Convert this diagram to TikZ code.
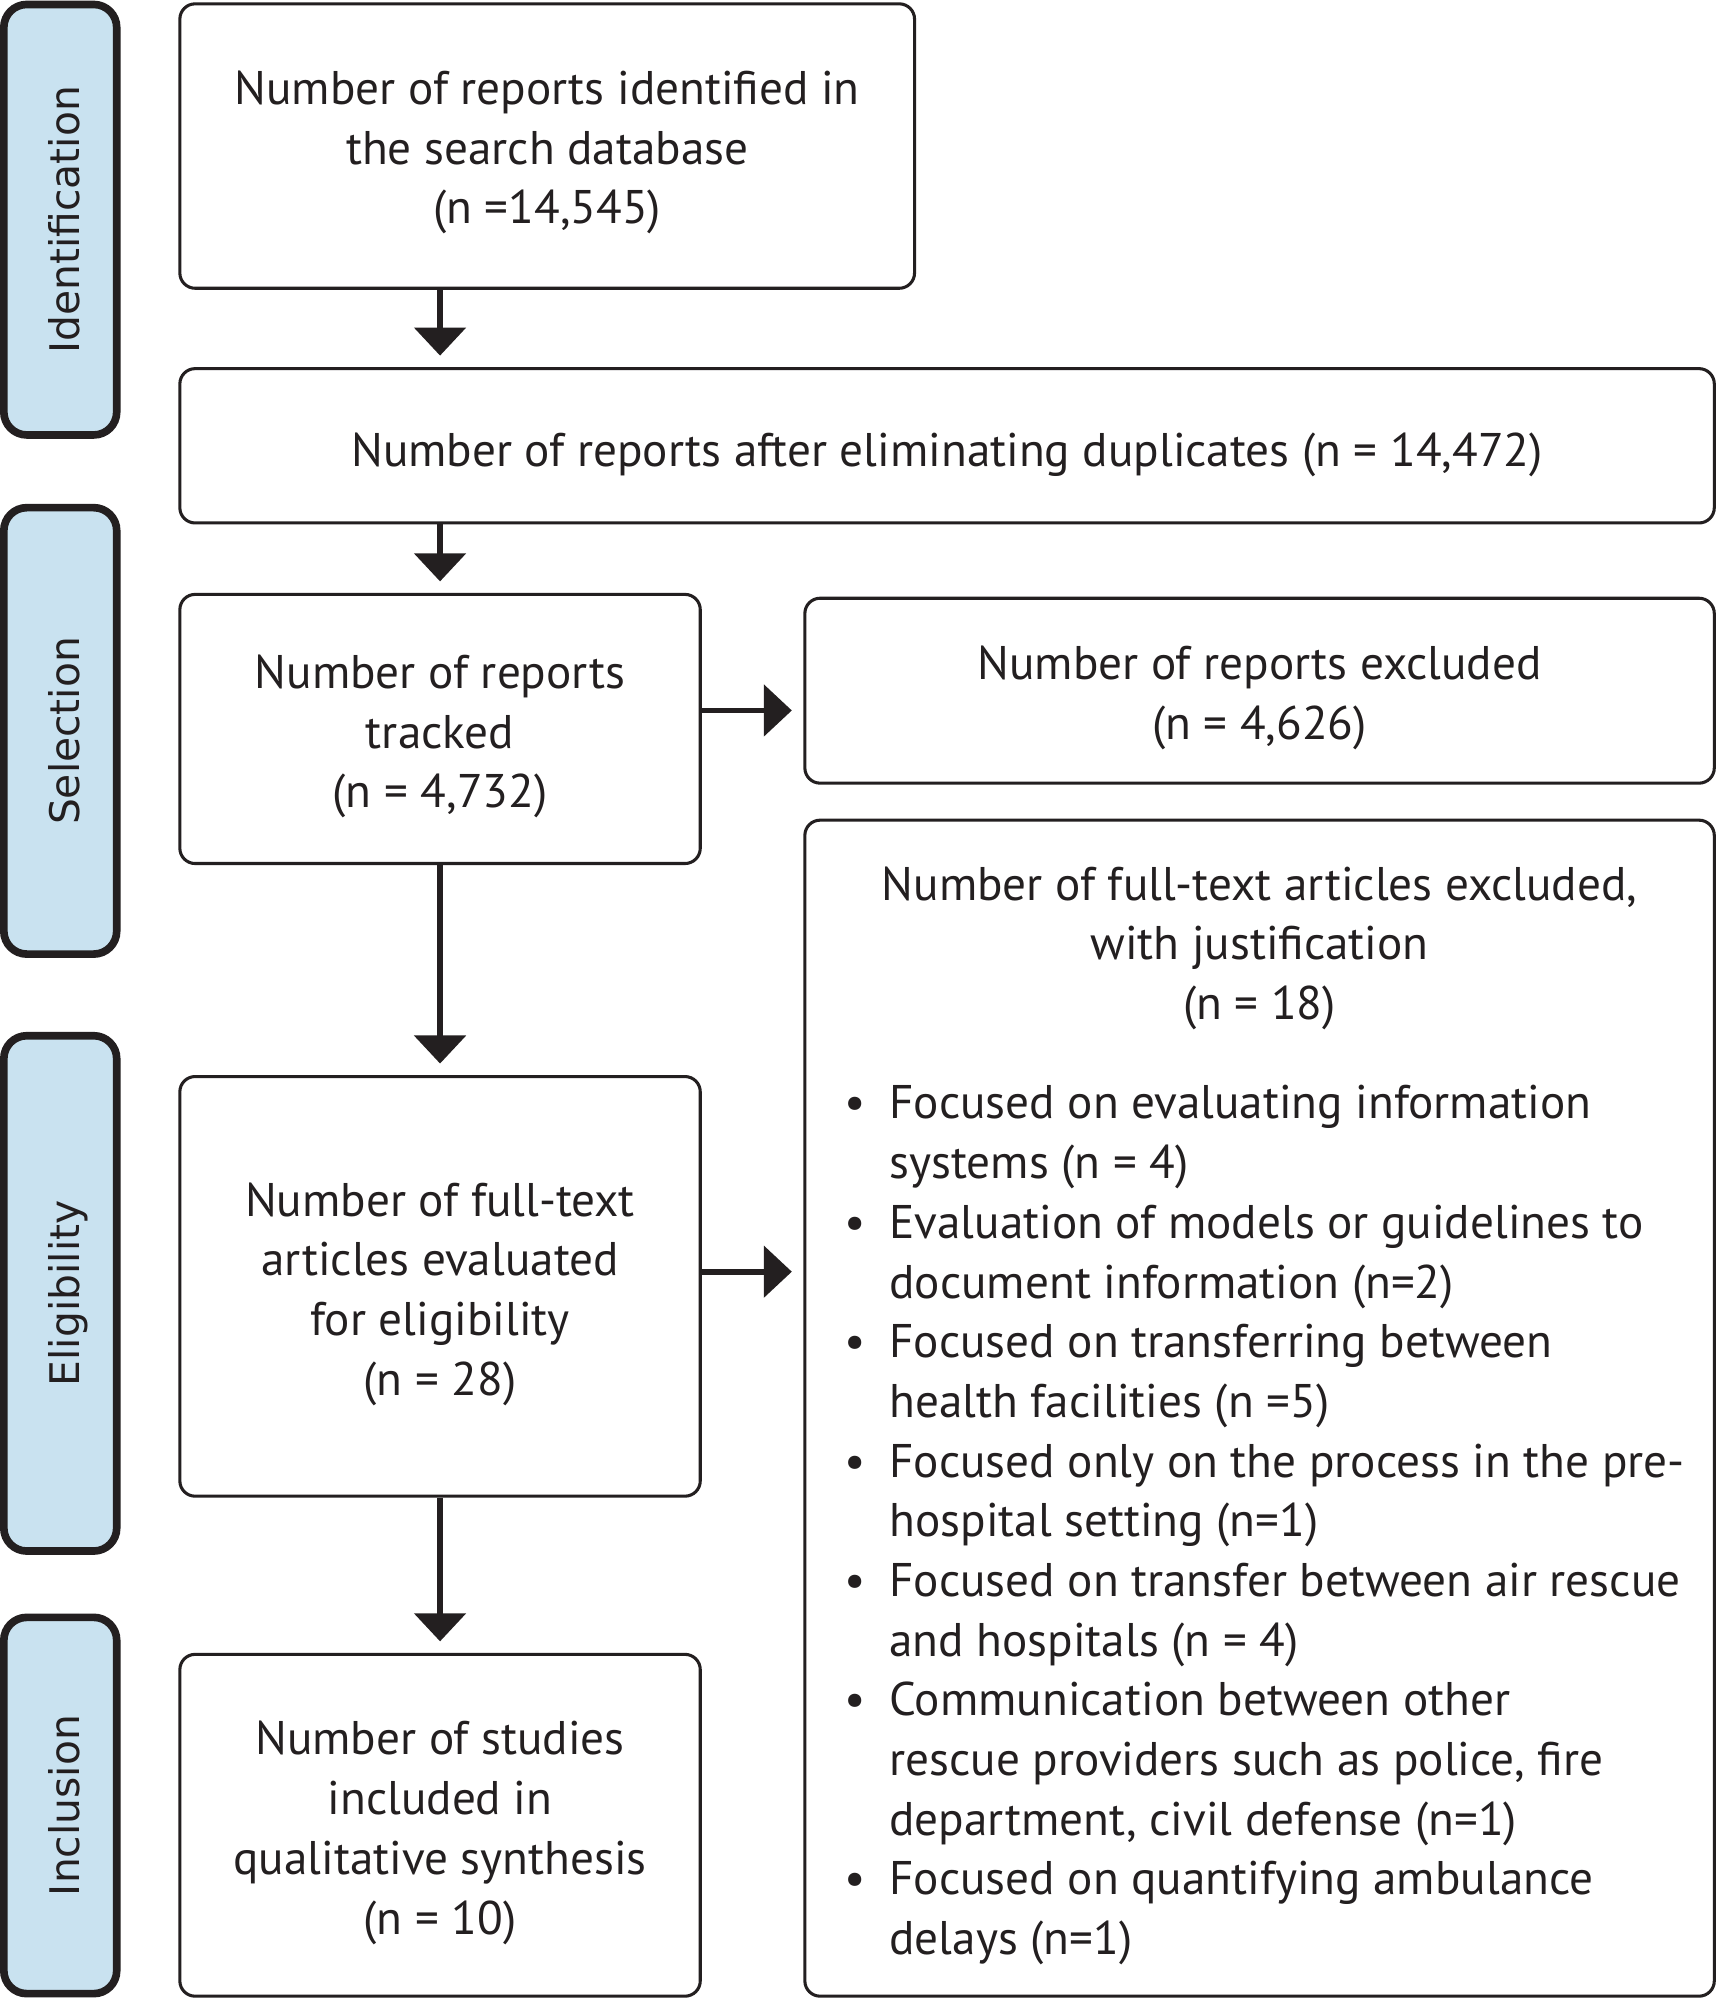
\documentclass[tikz,border=0pt]{standalone}
\usepackage{fontspec}
\setmainfont{PT Sans}
\newfontfamily\sidefont{DejaVu Sans}
\usetikzlibrary{arrows.meta,fit,calc}
\definecolor{ink}{HTML}{231F20}
\definecolor{sideblue}{HTML}{C9E2F0}
\begin{document}
\begin{tikzpicture}[x=0.5pt,y=-0.5pt,
  mainfont/.style={font=\fontsize{18.5}{23.4}\selectfont},
  box/.style={draw=ink, line width=1.2pt, rounded corners=6pt, inner sep=0pt},
  txt/.style={inner sep=0pt, align=center, text=ink, mainfont},
  side/.style={draw=ink, fill=sideblue, line width=3pt, rounded corners=9pt, inner sep=0pt},
  sidetext/.style={rotate=90, text=ink, inner sep=0pt, text height=11.7pt, text depth=0pt, font=\sidefont\fontsize{16}{19}\selectfont},
  arr/.style={draw=ink, line width=2.2pt, -{Triangle[width=20pt,length=11pt]}, shorten >=4.5pt}]

\useasboundingbox[fill=white] (0,0) rectangle (1346,1568);

% side labels
\node[side, fit={(3,3.5)(91.5,341)}] (s1) {};
\node[side, fit={(3,398)(91.5,748)}] (s2) {};
\node[side, fit={(3,812)(91.5,1216)}] (s3) {};
\node[side, fit={(3,1268)(91.5,1563)}] (s4) {};
\node[sidetext] (st1) at ($(s1.center)+(3,0)$) {Identification};
\node[sidetext] (st2) at ($(s2.center)+(3,0)$) {Selection};
\node[sidetext] (st3) at ($(s3.center)+(3,0)$) {Eligibility};
\node[sidetext] (st4) at ($(s4.center)+(3,0)$) {Inclusion};

% boxes
\node[box, fit={(141,3)(717,226)}] (b1) {};
\node[box, fit={(141,289)(1344,410)}] (b2) {};
\node[box, fit={(141,466)(549,677)}] (b3) {};
\node[box, fit={(631,469)(1344,614)}] (b4) {};
\node[box, fit={(141,844)(549,1173)}] (b5) {};
\node[box, fit={(631,643)(1344,1565)}] (b6) {};
\node[box, fit={(141,1297)(549,1565)}] (b7) {};

\node[txt] (t1) at ($(b1.center)+(0,5)$) {Number of reports identified in\\the search database\\(n =14,545)};
\node[txt] (t2) at ($(b2.center)+(0,7)$) {Number of reports after eliminating duplicates (n = 14,472)};
\node[txt] (t3) at ($(b3.center)+(0,6)$) {Number of reports\\tracked\\(n = 4,732)};
\node[txt] (t4) at ($(b4.center)+(0,5.5)$) {Number of reports excluded\\(n = 4,626)};
\node[txt] (t5) at ($(b5.center)+(0,6)$) {Number of full-text\\articles evaluated\\for eligibility\\(n = 28)};
\node[txt] (t7) at ($(b7.center)+(0,6)$) {Number of studies\\included in\\qualitative synthesis\\(n = 10)};

\node[txt] (t6) at (987.5,743.5) {Number of full-text articles excluded,\\with justification\\(n = 18)};
\node[txt, anchor=west, align=left] (l6) at (656,1195.5) {%
\begin{tabular}{@{}l@{}l@{}}
\makebox[20.5pt][l]{\hspace{3pt}•} & Focused on evaluating information\\
 & systems (n = 4)\\
\makebox[20.5pt][l]{\hspace{3pt}•} & Evaluation of models or guidelines to\\
 & document information (n=2)\\
\makebox[20.5pt][l]{\hspace{3pt}•} & Focused on transferring between\\
 & health facilities (n =5)\\
\makebox[20.5pt][l]{\hspace{3pt}•} & Focused only on the process in the pre-\\
 & hospital setting (n=1)\\
\makebox[20.5pt][l]{\hspace{3pt}•} & Focused on transfer between air rescue\\
 & and hospitals (n = 4)\\
\makebox[20.5pt][l]{\hspace{3pt}•} & Communication between other\\
 & rescue providers such as police, fire\\
 & department, civil defense (n=1)\\
\makebox[20.5pt][l]{\hspace{3pt}•} & Focused on quantifying ambulance\\
 & delays (n=1)
\end{tabular}};

% connectors
\draw[arr] (b1.south -| b3.north) -- (b2.north -| b3.north);
\draw[arr] (b2.south -| b3.north) -- (b3.north);
\coordinate (a3) at ($(b3.east)+(0,-14.5)$);
\draw[arr] (a3) -- (a3 -| b4.west);
\draw[arr] (b3.south) -- (b5.north);
\coordinate (a5) at ($(b5.east)+(0,-11.5)$);
\draw[arr] (a5) -- (a5 -| b6.west);
\draw[arr] (b5.south) -- (b7.north);
\end{tikzpicture}
\end{document}
